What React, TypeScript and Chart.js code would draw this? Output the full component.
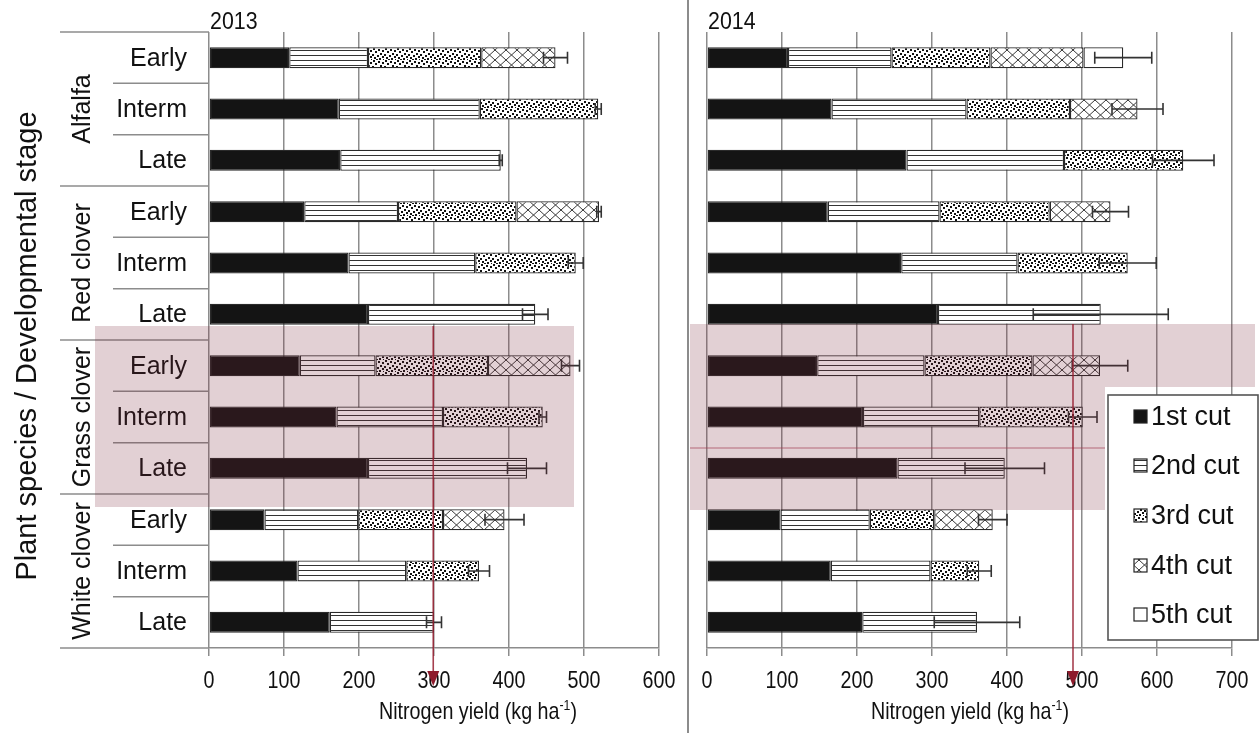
import React, { useEffect, useRef } from 'react';
import { Chart, registerables } from 'chart.js';
Chart.register(...registerables);

// ---------- data ----------
const species = ['Alfalfa', 'Red clover', 'Grass clover', 'White clover'];
const stages = ['Early', 'Interm', 'Late'];
const rowLabels = species.flatMap(() => stages);
const cutNames = ['1st cut', '2nd cut', '3rd cut', '4th cut', '5th cut'];

const cut1_2013 = [107, 173, 175, 127, 186, 212, 121, 170, 212, 74, 118, 161];
const cut2_2013 = [105, 188, 214, 125, 169, 223, 101, 142, 212, 125, 145, 139];
const cut3_2013 = [151, 158, null, 158, 134, null, 150, 133, null, 113, 97, null];
const cut4_2013 = [99, null, null, 110, null, null, 110, null, null, 82, null, null];
const cut5_2013 = [null, null, null, null, null, null, null, null, null, null, null, null];
const err_2013 = [16, 4, 2, 3, 10, 17, 12, 5, 26, 26, 14, 10];

const cut1_2014 = [108, 166, 266, 161, 259, 308, 147, 208, 254, 98, 165, 207];
const cut2_2014 = [138, 180, 210, 149, 155, 217, 143, 155, 143, 119, 133, 153];
const cut3_2014 = [132, 138, 159, 147, 147, null, 144, 138, null, 86, 65, null];
const cut4_2014 = [124, 90, null, 81, null, null, 90, null, null, 78, null, null];
const cut5_2014 = [53, null, null, null, null, null, null, null, null, null, null, null];
const err_2014 = [38, 34, 41, 24, 38, 90, 37, 19, 53, 19, 16, 57];

const xMax2013 = 600;
const xMax2014 = 700;
const markerValues = [299, 488];

// ---------- layout ----------
const W = 1260;
const H = 733;
const SPLIT = 688;
const LW = SPLIT;
const RW = W - SPLIT;
const FONT = '"Liberation Sans", Arial, sans-serif';
const GRID = '#8c8c8c';
const NARROW = 0.82;
const STIPPLE = [[1, 0], [6, 1], [10, 2], [3, 3], [8, 5], [0, 6], [5, 7], [10, 8], [2, 9], [7, 10], [11, 11], [4, 11]];

function makePatterns(ctx: CanvasRenderingContext2D) {
  const mk = (w: number, h: number, draw: (c: CanvasRenderingContext2D) => void) => {
    const c = document.createElement('canvas');
    c.width = w; c.height = h;
    const x = c.getContext('2d')!;
    x.fillStyle = '#fff';
    x.fillRect(0, 0, w, h);
    draw(x);
    return ctx.createPattern(c, 'repeat')!;
  };
  const lines = mk(8, 5, (c) => { c.fillStyle = '#333'; c.fillRect(0, 0, 8, 1); });
  const dots = mk(12, 12, (c) => {
    c.fillStyle = '#111';
    STIPPLE.forEach(([a, b]) => c.fillRect(a, b, 2, 2));
  });
  const hatch = mk(11, 10, (c) => {
    c.strokeStyle = '#3a3a3a'; c.lineWidth = 1;
    c.beginPath(); c.moveTo(0, 0); c.lineTo(11, 10); c.moveTo(11, 0); c.lineTo(0, 10); c.stroke();
  });
  return ['#141414', lines, dots, hatch, '#ffffff'];
}

function textAt(ctx: CanvasRenderingContext2D, s: string, x: number, y: number, size: number, sx: number, align: CanvasTextAlign, baseline: CanvasTextBaseline = 'middle', rot = 0) {
  ctx.save();
  ctx.translate(x, y);
  if (rot) ctx.rotate(rot);
  ctx.scale(sx, 1);
  ctx.font = `${size}px ${FONT}`;
  ctx.fillStyle = '#111';
  ctx.textAlign = align;
  ctx.textBaseline = baseline;
  ctx.fillText(s, 0, 0);
  ctx.restore();
}

function drawAxisTitle(ctx: CanvasRenderingContext2D, cx: number, baseline: number) {
  const main = 'Nitrogen yield (kg ha';
  const sup = '-1';
  const end = ')';
  ctx.save();
  ctx.translate(cx, baseline);
  ctx.scale(NARROW, 1);
  ctx.font = `24px ${FONT}`;
  const w1 = ctx.measureText(main).width;
  const w3 = ctx.measureText(end).width;
  ctx.font = `15px ${FONT}`;
  const w2 = ctx.measureText(sup).width;
  const x0 = -(w1 + w2 + w3) / 2;
  ctx.fillStyle = '#111';
  ctx.textAlign = 'left';
  ctx.textBaseline = 'alphabetic';
  ctx.font = `24px ${FONT}`;
  ctx.fillText(main, x0, 0);
  ctx.font = `15px ${FONT}`;
  ctx.fillText(sup, x0 + w1, -9);
  ctx.font = `24px ${FONT}`;
  ctx.fillText(end, x0 + w1 + w2, 0);
  ctx.restore();
}

function drawErrors(chart: any, totals: number[], errs: number[]) {
  const { ctx, scales: { x, y } } = chart;
  ctx.save();
  ctx.strokeStyle = '#333';
  ctx.lineWidth = 1.6;
  totals.forEach((t, i) => {
    const py = y.getPixelForValue(i);
    const a = x.getPixelForValue(t - errs[i]);
    const b = x.getPixelForValue(t + errs[i]);
    ctx.beginPath();
    ctx.moveTo(a, py); ctx.lineTo(b, py);
    ctx.moveTo(a, py - 6); ctx.lineTo(a, py + 6);
    ctx.moveTo(b, py - 6); ctx.lineTo(b, py + 6);
    ctx.stroke();
  });
  ctx.restore();
}

function drawMarker(ctx: CanvasRenderingContext2D, px: number, top: number) {
  ctx.save();
  ctx.strokeStyle = 'rgba(150,30,48,0.85)';
  ctx.lineWidth = 1.6;
  ctx.beginPath(); ctx.moveTo(px, top); ctx.lineTo(px, 674); ctx.stroke();
  ctx.fillStyle = '#8e1b2c';
  ctx.beginPath();
  ctx.moveTo(px - 6, 671); ctx.lineTo(px + 6, 671); ctx.lineTo(px, 686);
  ctx.closePath(); ctx.fill();
  ctx.restore();
}

const PINK = 'rgba(122,42,58,0.22)';

function buildChart(canvas: HTMLCanvasElement, year: string, cuts: (number | null)[][], errs: number[], xMax: number, isLeft: boolean) {
  const ctx = canvas.getContext('2d')!;
  const fills = makePatterns(ctx);
  const totals = rowLabels.map((_, i) => cuts.reduce((s, c) => s + (c[i] ?? 0), 0));
  const off = isLeft ? 0 : SPLIT;
  const ix = (x: number) => x - off;
  const plotLeft = isLeft ? 209 : 707;
  const plotRight = isLeft ? 659 : 1232;
  const cw = isLeft ? LW : RW;

  const decor = {
    id: 'decor' + year,
    afterDatasetsDraw(chart: any) { drawErrors(chart, totals, errs); },
    afterDraw(chart: any) {
      const { ctx: c, chartArea, scales: { x, y } } = chart;
      c.save();
      // tick labels
      x.ticks.forEach((t: any) => textAt(c, String(t.value), x.getPixelForValue(t.value), 681, 24, NARROW, 'center'));
      // year
      textAt(c, year, ix(isLeft ? 210 : 708), 29, 24, 0.89, 'left', 'alphabetic');
      // axis title
      drawAxisTitle(c, ix(isLeft ? 478 : 970), 719);

      if (isLeft) {
        // category boundary lines
        c.strokeStyle = GRID;
        c.lineWidth = 1.5;
        for (let i = 0; i <= rowLabels.length; i++) {
          let yy: number;
          if (i === 0) yy = chartArea.top;
          else if (i === rowLabels.length) yy = chartArea.bottom;
          else yy = (y.getPixelForValue(i - 1) + y.getPixelForValue(i)) / 2;
          const x0 = ix(i % 3 === 0 ? 60 : 113);
          c.beginPath(); c.moveTo(x0, yy); c.lineTo(chartArea.left, yy); c.stroke();
        }
        // stage labels
        rowLabels.forEach((l, i) => textAt(c, l, ix(187), y.getPixelForValue(i) + 1, 25, 1, 'right'));
        // species labels
        species.forEach((s, g) => {
          const cy = (y.getPixelForValue(g * 3) + y.getPixelForValue(g * 3 + 2)) / 2;
          textAt(c, s, ix(83), cy, 25, 1, 'center', 'middle', -Math.PI / 2);
        });
        // y title
        textAt(c, 'Plant species / Developmental stage', ix(28), 346, 29, 1, 'center', 'middle', -Math.PI / 2);
        // overlay
        c.fillStyle = PINK;
        c.fillRect(ix(95), 326, ix(574) - ix(95), 507 - 326);
        drawMarker(c, x.getPixelForValue(markerValues[0]), 326);
      } else {
        c.fillStyle = PINK;
        c.fillRect(ix(690), 324, ix(1255) - ix(690), 387 - 324);
        c.fillRect(ix(690), 387, ix(1105) - ix(690), 510 - 387);
        c.strokeStyle = 'rgba(160,60,80,0.35)';
        c.lineWidth = 2;
        c.beginPath(); c.moveTo(ix(690), 448); c.lineTo(ix(1105), 448); c.stroke();
        drawMarker(c, x.getPixelForValue(markerValues[1]), 324);
        // legend
        const lx0 = ix(1108), lx1 = ix(1258), ly0 = 395, ly1 = 640;
        c.fillStyle = '#fff';
        c.fillRect(lx0, ly0, lx1 - lx0, ly1 - ly0);
        c.strokeStyle = '#555';
        c.lineWidth = 1.6;
        c.strokeRect(lx0, ly0, lx1 - lx0, ly1 - ly0);
        const rowsY = [417, 466, 516, 566, 615];
        cutNames.forEach((n, k) => {
          const sy = rowsY[k];
          c.fillStyle = fills[k] as any;
          c.fillRect(ix(1134), sy - 7, 13, 13);
          c.strokeStyle = '#222';
          c.lineWidth = 1.2;
          c.strokeRect(ix(1134), sy - 7, 13, 13);
          textAt(c, n, ix(1151), sy + 1, 27, 1, 'left');
        });
      }
      c.restore();
    },
  };

  return new Chart(canvas, {
    type: 'bar',
    data: {
      labels: rowLabels,
      datasets: cuts.map((d, k) => ({
        label: cutNames[k],
        data: d as any,
        backgroundColor: fills[k] as any,
        borderColor: '#2a2a2a',
        borderWidth: 1.3,
        borderSkipped: false,
        barPercentage: 0.41,
        categoryPercentage: 1,
      })),
    },
    options: {
      indexAxis: 'y',
      animation: false,
      responsive: false,
      devicePixelRatio: 1,
      layout: {
        padding: {
          left: ix(plotLeft),
          right: cw - ix(plotRight),
          top: 32,
          bottom: 0,
        },
      },
      plugins: { legend: { display: false }, tooltip: { enabled: false } },
      scales: {
        x: {
          stacked: true,
          min: 0,
          max: xMax,
          ticks: { stepSize: 100, display: false },
          grid: { color: GRID, lineWidth: 1.5, tickLength: 8, tickColor: GRID, drawTicks: true },
          border: { display: true, color: GRID, width: 1.5 },
          afterFit: (s: any) => { s.height = H - 648; },
        },
        y: {
          stacked: true,
          display: false,
        },
      },
    },
    plugins: [decor],
  });
}

export default function App() {
  const leftRef = useRef<HTMLCanvasElement>(null);
  const rightRef = useRef<HTMLCanvasElement>(null);
  useEffect(() => {
    const a = buildChart(leftRef.current!, '2013', [cut1_2013, cut2_2013, cut3_2013, cut4_2013, cut5_2013], err_2013, xMax2013, true);
    const b = buildChart(rightRef.current!, '2014', [cut1_2014, cut2_2014, cut3_2014, cut4_2014, cut5_2014], err_2014, xMax2014, false);
    return () => { a.destroy(); b.destroy(); };
  }, []);
  return (
    <div style={{ position: 'absolute', left: 0, top: 0, width: W, height: H, overflow: 'hidden', background: '#fff' }}>
      <canvas ref={leftRef} width={LW} height={H} style={{ position: 'absolute', left: 0, top: 0, width: LW, height: H }} />
      <canvas ref={rightRef} width={RW} height={H} style={{ position: 'absolute', left: LW, top: 0, width: RW, height: H }} />
      <div style={{ position: 'absolute', left: SPLIT - 1, top: 0, width: 1.5, height: H, background: '#8c8c8c' }} />
    </div>
  );
}
